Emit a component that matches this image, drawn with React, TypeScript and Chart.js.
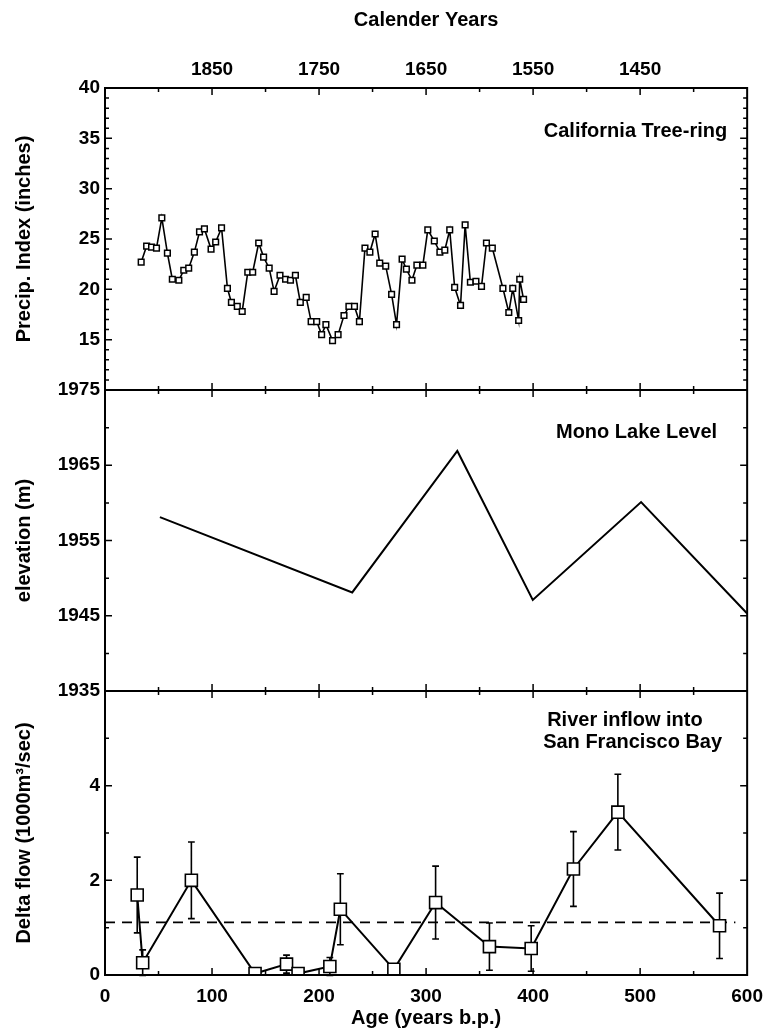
import React, { useEffect, useRef } from "react";
import { Chart, registerables } from "chart.js";

Chart.register(...registerables);

const FONT = "'Liberation Sans', Arial, Helvetica, sans-serif";

// California tree-ring precipitation index (inches) vs. age (years b.p.)
const treeAge = [
  33.8, 38.9, 43.5, 48.1, 53.1, 58.3, 62.9, 69.0, 73.6, 78.2,
  83.5, 88.3, 92.9, 99.1, 103.4, 108.9, 114.4, 118.1, 123.6, 128.2,
  133.4, 138.0, 143.6, 148.2, 153.4, 158.0, 163.5, 168.7, 173.3, 177.9,
  182.5, 188.0, 192.6, 197.8, 202.4, 206.4, 212.6, 217.8, 223.3, 227.9,
  233.1, 237.7, 242.9, 247.5, 252.4, 256.7, 262.3, 267.8, 272.4, 277.6,
  281.6, 286.8, 291.4, 297.0, 301.6, 307.7, 312.9, 317.5, 322.1, 326.7,
  332.2, 336.5, 341.4, 346.6, 351.8, 356.4, 361.9, 371.8, 377.3, 381.0,
  386.5, 387.5, 391.1,
];
const treePrecip = [
  22.7, 24.3, 24.2, 24.1, 27.1, 23.6, 21.0, 20.9, 21.9, 22.1,
  23.7, 25.7, 26.0, 24.0, 24.7, 26.1, 20.1, 18.7, 18.3, 17.8,
  21.7, 21.7, 24.6, 23.2, 22.1, 19.8, 21.4, 21.0, 20.9, 21.4,
  18.7, 19.2, 16.8, 16.8, 15.5, 16.5, 14.9, 15.5, 17.4, 18.3,
  18.3, 16.8, 24.1, 23.7, 25.5, 22.6, 22.3, 19.5, 16.5, 23.0,
  22.0, 20.9, 22.4, 22.4, 25.9, 24.8, 23.7, 23.9, 25.9, 20.2,
  18.4, 26.4, 20.7, 20.8, 20.3, 24.6, 24.1, 20.1, 17.7, 20.1,
  16.9, 21.0, 19.0,
];

// Mono Lake level (m)
const monoAge = [51.3, 231.0, 329.2, 399.7, 500.9, 600.0];
const monoElev = [1958.1, 1948.1, 1966.9, 1947.1, 1960.1, 1945.3];

// Delta inflow into San Francisco Bay (1000 m3/sec) with error bars
const deltaAge = [30.1, 35.2, 80.7, 140.2, 169.6, 180.4, 210.1, 219.9, 269.9, 308.9, 359.2, 398.2, 437.7, 479.2, 574.2];
const deltaFlow = [1.69, 0.26, 2.0, 0.03, 0.23, 0.03, 0.18, 1.39, 0.12, 1.53, 0.6, 0.56, 2.24, 3.44, 1.04];
const deltaErr = [0.8, 0.27, 0.81, 0, 0.19, 0, 0.19, 0.75, 0, 0.77, 0.5, 0.48, 0.79, 0.8, 0.69];
const meanFlow = 1.11;
const meanSpan = [0, 589];

// Axis ticks
const ageTicks = [0, 100, 200, 300, 400, 500, 600];
const calendarTicks = [100, 200, 300, 400, 500];
const presentYear = 1950;
const precipTicks = [15, 20, 25, 30, 35, 40];
const elevTicks = [1935, 1945, 1955, 1965, 1975];
const flowTicks = [0, 2, 4];

const tickFont = { family: FONT, size: 19, weight: "bold" as const };
const titleFont = { family: FONT, size: 20, weight: "bold" as const };
const noGrid = { display: false, drawTicks: false };

const fixedTicks = (values: number[]) => (scale: any) => {
  scale.ticks = values.map((v) => ({ value: v }));
};

// Frame, panel separators and inward tick marks
const framePlugin = {
  id: "frameTicks",
  afterDraw(chart: any) {
    const { ctx, chartArea: a, scales } = chart;
    const x = scales.x;
    const panels = [
      { s: scales.yTop, minor: 1, major: 5 },
      { s: scales.yMid, minor: 5, major: 10 },
      { s: scales.yBot, minor: 1, major: 2 },
    ];
    ctx.save();
    ctx.strokeStyle = "#000";
    ctx.lineWidth = 2;
    ctx.strokeRect(a.left, a.top, a.right - a.left, a.bottom - a.top);
    ctx.beginPath();
    for (const y of [scales.yMid.top, scales.yBot.top]) {
      ctx.moveTo(a.left, y);
      ctx.lineTo(a.right, y);
    }
    ctx.stroke();

    ctx.lineWidth = 1.5;
    ctx.beginPath();
    for (const p of panels) {
      const { min, max } = p.s;
      for (let v = min + p.minor; v < max - 1e-9; v += p.minor) {
        const y = p.s.getPixelForValue(v);
        const r = (v - min) / p.major;
        const len = Math.abs(r - Math.round(r)) < 1e-6 ? 7 : 4;
        ctx.moveTo(a.left, y);
        ctx.lineTo(a.left + len, y);
        ctx.moveTo(a.right, y);
        ctx.lineTo(a.right - len, y);
      }
    }
    const edges = [a.top, scales.yMid.top, scales.yBot.top, a.bottom];
    for (let v = 50; v < 600; v += 50) {
      const px = x.getPixelForValue(v);
      const len = v % 100 === 0 ? 7 : 4;
      edges.forEach((y: number, i: number) => {
        if (i !== 0) {
          ctx.moveTo(px, y);
          ctx.lineTo(px, y - len);
        }
        if (i !== edges.length - 1) {
          ctx.moveTo(px, y);
          ctx.lineTo(px, y + len);
        }
      });
    }
    ctx.stroke();
    ctx.restore();
  },
};

// Vertical error bars for the delta-flow series
const errorBarPlugin = {
  id: "errorBars",
  beforeDatasetsDraw(chart: any) {
    const meta = chart.getDatasetMeta(2);
    const ys = chart.scales.yBot;
    const ctx = chart.ctx;
    ctx.save();
    ctx.strokeStyle = "#000";
    ctx.lineWidth = 1.6;
    ctx.beginPath();
    meta.data.forEach((pt: any, i: number) => {
      const e = deltaErr[i];
      if (!e) return;
      const top = ys.getPixelForValue(deltaFlow[i] + e);
      const bot = ys.getPixelForValue(deltaFlow[i] - e);
      ctx.moveTo(pt.x, top);
      ctx.lineTo(pt.x, bot);
      ctx.moveTo(pt.x - 3.4, top);
      ctx.lineTo(pt.x + 3.4, top);
      ctx.moveTo(pt.x - 3.4, bot);
      ctx.lineTo(pt.x + 3.4, bot);
    });
    ctx.stroke();
    ctx.restore();
  },
};

// Panel captions
const captionPlugin = {
  id: "captions",
  afterDraw(chart: any) {
    const { ctx, chartArea: a, scales } = chart;
    ctx.save();
    ctx.fillStyle = "#000";
    ctx.font = `bold 20px ${FONT}`;
    ctx.textBaseline = "middle";
    ctx.textAlign = "right";
    ctx.fillText("California Tree-ring", a.right - 20, scales.yTop.top + 43);
    ctx.fillText("Mono Lake Level", a.right - 30, scales.yMid.top + 42);
    ctx.textAlign = "left";
    ctx.fillText("River inflow into", a.right - 200, scales.yBot.top + 29);
    ctx.fillText("San Francisco Bay", a.right - 204, scales.yBot.top + 51);
    ctx.restore();
  },
};

export default function App() {
  const ref = useRef<HTMLCanvasElement | null>(null);

  useEffect(() => {
    if (!ref.current) return;
    const chart = new Chart(ref.current, {
      type: "line",
      data: {
        datasets: [
          {
            data: treeAge.map((x, i) => ({ x, y: treePrecip[i] })),
            xAxisID: "x",
            yAxisID: "yTop",
            borderColor: "#000",
            borderWidth: 1.6,
            pointStyle: "rect",
            pointRadius: 4,
            pointBorderWidth: 1.5,
            pointBackgroundColor: "#fff",
            pointBorderColor: "#000",
            tension: 0,
          },
          {
            data: monoAge.map((x, i) => ({ x, y: monoElev[i] })),
            xAxisID: "x",
            yAxisID: "yMid",
            borderColor: "#000",
            borderWidth: 2,
            pointRadius: 0,
            tension: 0,
          },
          {
            data: deltaAge.map((x, i) => ({ x, y: deltaFlow[i] })),
            xAxisID: "x",
            yAxisID: "yBot",
            borderColor: "#000",
            borderWidth: 2,
            pointStyle: "rect",
            pointRadius: 8.5,
            pointBorderWidth: 1.6,
            pointBackgroundColor: "#fff",
            pointBorderColor: "#000",
            tension: 0,
            order: 0,
          },
          {
            data: meanSpan.map((x) => ({ x, y: meanFlow })),
            xAxisID: "x",
            yAxisID: "yBot",
            borderColor: "#000",
            borderWidth: 1.8,
            borderDash: [10, 7],
            pointRadius: 0,
            order: 1,
          },
        ],
      },
      options: {
        responsive: false,
        animation: false,
        layout: { padding: { right: 16 } },
        plugins: { legend: { display: false }, tooltip: { enabled: false } },
        scales: {
          x: {
            type: "linear",
            position: "bottom",
            min: 0,
            max: 600,
            afterBuildTicks: fixedTicks(ageTicks),
            afterFit: (s: any) => {
              s.height = 58;
            },
            grid: noGrid,
            border: { display: false },
            ticks: {
              color: "#000",
              font: tickFont,
              padding: 10,
              maxRotation: 0,
              autoSkip: false,
              callback: (v: any) => String(v),
            },
            title: {
              display: true,
              text: "Age (years b.p.)",
              color: "#000",
              font: titleFont,
              padding: { top: 0, bottom: 3 },
            },
          },
          x2: {
            type: "linear",
            position: "top",
            min: 0,
            max: 600,
            afterBuildTicks: fixedTicks(calendarTicks),
            afterFit: (s: any) => {
              s.height = 80;
            },
            grid: noGrid,
            border: { display: false },
            ticks: {
              color: "#000",
              font: tickFont,
              padding: 7,
              maxRotation: 0,
              autoSkip: false,
              callback: (v: any) => String(presentYear - v),
            },
            title: {
              display: true,
              text: "Calender Years",
              color: "#000",
              font: titleFont,
              padding: { top: 0, bottom: 0 },
            },
          },
          yBot: {
            type: "linear",
            position: "left",
            stack: "panels",
            stackWeight: 284,
            min: 0,
            max: 6,
            afterBuildTicks: fixedTicks(flowTicks),
            afterFit: (s: any) => {
              s.width = 97;
            },
            grid: noGrid,
            border: { display: false },
            ticks: { color: "#000", font: tickFont, padding: 5, autoSkip: false, callback: (v: any) => String(v) },
            title: {
              display: true,
              text: "Delta flow (1000m³/sec)",
              color: "#000",
              font: titleFont,
              padding: { top: 4, bottom: 0 },
            },
          },
          yMid: {
            type: "linear",
            position: "left",
            stack: "panels",
            stackWeight: 301,
            min: 1935,
            max: 1975,
            afterBuildTicks: fixedTicks(elevTicks),
            afterFit: (s: any) => {
              s.width = 97;
            },
            grid: noGrid,
            border: { display: false },
            ticks: { color: "#000", font: tickFont, padding: 5, autoSkip: false, callback: (v: any) => String(v) },
            title: {
              display: true,
              text: "elevation (m)",
              color: "#000",
              font: titleFont,
              padding: { top: 4, bottom: 0 },
            },
          },
          yTop: {
            type: "linear",
            position: "left",
            stack: "panels",
            stackWeight: 302,
            min: 10,
            max: 40,
            afterBuildTicks: fixedTicks(precipTicks),
            afterFit: (s: any) => {
              s.width = 97;
            },
            grid: noGrid,
            border: { display: false },
            ticks: { color: "#000", font: tickFont, padding: 5, autoSkip: false, callback: (v: any) => String(v) },
            title: {
              display: true,
              text: "Precip. Index (inches)",
              color: "#000",
              font: titleFont,
              padding: { top: 4, bottom: 0 },
            },
          },
        },
      },
      plugins: [errorBarPlugin, framePlugin, captionPlugin],
    } as any);
    return () => chart.destroy();
  }, []);

  return (
    <div style={{ position: "absolute", left: 8, top: 8, width: 765, height: 1025 }}>
      <canvas ref={ref} width={765} height={1025} style={{ display: "block" }} />
    </div>
  );
}
